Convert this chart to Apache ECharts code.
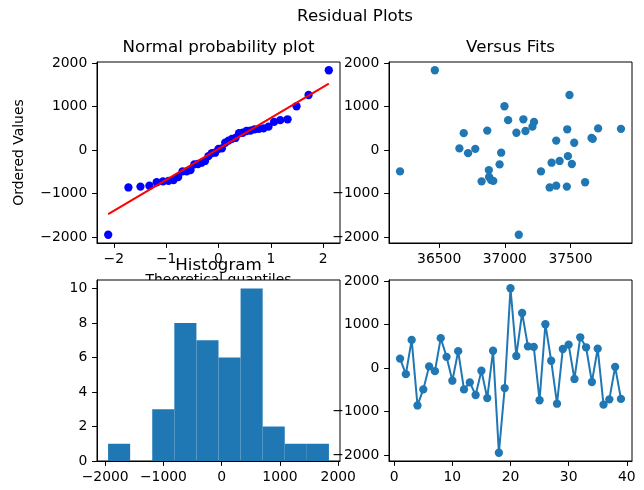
<!DOCTYPE html>
<html>
<head>
<meta charset="utf-8">
<script src="https://cdn.jsdelivr.net/npm/echarts@6/dist/echarts.min.js"></script>
<style>
  html, body { margin: 0; padding: 0; background: #fff; }
  #chart { width: 644px; height: 490px; }
</style>
</head>
<body>
<div id="chart"></div>
<script>
const observation = [1, 2, 3, 4, 5, 6, 7, 8, 9, 10, 11, 12, 13, 14, 15, 16, 17, 18, 19, 20,
  21, 22, 23, 24, 25, 26, 27, 28, 29, 30, 31, 32, 33, 34, 35, 36, 37, 38, 39];
const residuals = [220, -140, 650, -860, -490, 40, -70, 690, 260, -290, 390, -490, -330, -620, -60,
  -690, 400, -1950, -460, 1840, 280, 1270, 500, 490, -740, 1010, 170, -820, 440, 540, -250, 710,
  480, -320, 450, -840, -720, 30, -710];
const fittedValues = [37391, 37480, 37222, 37341, 36202, 36654, 36720, 37025, 37669, 37356, 36687,
  37275, 36960, 36880, 36972, 36895, 37088, 37106, 36878, 36467, 37660, 37492, 37710, 37884, 37611,
  36997, 37528, 37391, 37157, 37210, 37417, 37141, 37475, 37510, 36866, 37472, 36823, 36775, 36912];

// normal probability plot
const qqQuantiles = [-2.106, -1.720, -1.490, -1.319, -1.180, -1.061, -0.955, -0.859, -0.770, -0.687,
  -0.609, -0.534, -0.462, -0.392, -0.324, -0.257, -0.192, -0.128, -0.064, 0, 0.064, 0.128, 0.192,
  0.257, 0.324, 0.392, 0.462, 0.534, 0.609, 0.687, 0.770, 0.859, 0.955, 1.061, 1.180, 1.319, 1.490,
  1.720, 2.106];
const qqOrdered = [-1950, -860, -840, -820, -740, -720, -710, -690, -620, -490, -490, -460, -330,
  -320, -290, -250, -140, -70, -60, 30, 40, 170, 220, 260, 280, 390, 400, 440, 450, 480, 490, 500,
  540, 650, 690, 710, 1010, 1270, 1840];
const qqLineX = [-2.106, 2.106];
const qqLineY = [-1475, 1530];

// histogram
const histEdges = [-1950, -1571, -1192, -813, -434, -55, 324, 703, 1082, 1461, 1840];
const histCounts = [1, 0, 3, 8, 7, 6, 10, 2, 1, 1];

// tick labels
const qqTicks = [-2, -1, 0, 1, 2];
const residualTicks = [-2000, -1000, 0, 1000, 2000];
const fitTicks = [36500, 37000, 37500];
const histXTicks = [-2000, -1000, 0, 1000, 2000];
const histYTicks = [0, 2, 4, 6, 8, 10];
const obsTicks = [0, 10, 20, 30, 40];

const FONT = 'DejaVu Sans';
const BLUE = '#1f77b4';
const minus = v => String(v).replace('-', '\u2212');

function axis(gridIndex, min, max, ticks, extra) {
  return Object.assign({
    type: 'value',
    gridIndex: gridIndex,
    min: min,
    max: max,
    z: 3,
    axisLine: { show: true, onZero: false, lineStyle: { color: '#000', width: 1 } },
    axisTick: { show: true, length: 4.9, customValues: ticks, lineStyle: { color: '#000', width: 1 } },
    axisLabel: { margin: 9.7, color: '#000', fontSize: 13.9, fontFamily: FONT, customValues: ticks, formatter: minus },
    splitLine: { show: false }
  }, extra || {});
}

const titleStyle = { fontSize: 16.7, fontWeight: 'normal', color: '#000', fontFamily: FONT };
function title(text, x, y) {
  return { text: text, left: x, top: y, textAlign: 'center', padding: 0, textStyle: titleStyle };
}

const gridBox = { show: true, borderColor: '#000', borderWidth: 1, backgroundColor: 'transparent' };

const chart = echarts.init(document.getElementById('chart'), null, { renderer: 'canvas' });
chart.setOption({
  animation: false,
  backgroundColor: '#fff',
  textStyle: { fontFamily: FONT },
  title: [
    title('Residual Plots', 355, 8),
    title('Normal probability plot', 218.5, 39),
    title('Versus Fits', 510.5, 39),
    title('Histogram', 218.5, 257)
  ],
  grid: [
    Object.assign({ left: 97, top: 62, width: 243, height: 181 }, gridBox),
    Object.assign({ left: 389, top: 62, width: 243, height: 181 }, gridBox),
    // white panel drawn above the quantile-axis name, like matplotlib's axes patch
    Object.assign({ left: 97, top: 280, width: 243, height: 181, z: 1 }, gridBox, { backgroundColor: '#fff' }),
    Object.assign({ left: 389, top: 280, width: 243, height: 181 }, gridBox)
  ],
  xAxis: [
    axis(0, -2.32, 2.32, qqTicks, {
      z: 0,
      name: 'Theoretical quantiles', nameLocation: 'middle', nameGap: 30,
      nameTextStyle: { color: '#000', fontSize: 13.9, fontFamily: FONT }
    }),
    axis(1, 36118, 37968, fitTicks),
    axis(2, -2140, 2030, histXTicks),
    axis(3, -0.9, 40.9, obsTicks)
  ],
  yAxis: [
    axis(0, -2140, 2030, residualTicks, {
      name: 'Ordered Values', nameLocation: 'middle', nameGap: 71,
      nameTextStyle: { color: '#000', fontSize: 13.9, fontFamily: FONT }
    }),
    axis(1, -2140, 2030, residualTicks),
    axis(2, 0, 10.5, histYTicks),
    axis(3, -2140, 2030, residualTicks)
  ],
  series: [
    {
      type: 'scatter', xAxisIndex: 0, yAxisIndex: 0,
      data: qqQuantiles.map((q, i) => [q, qqOrdered[i]]),
      symbolSize: 8.3, itemStyle: { color: '#0000ff', opacity: 1 }
    },
    {
      type: 'line', xAxisIndex: 0, yAxisIndex: 0,
      data: qqLineX.map((x, i) => [x, qqLineY[i]]),
      showSymbol: false, lineStyle: { color: '#ff0000', width: 2 }, z: 3
    },
    {
      type: 'scatter', xAxisIndex: 1, yAxisIndex: 1,
      data: fittedValues.map((f, i) => [f, residuals[i]]),
      symbolSize: 8.3, itemStyle: { color: BLUE, opacity: 1 }
    },
    {
      type: 'custom', xAxisIndex: 2, yAxisIndex: 2, z: 3,
      data: histCounts.map((c, i) => [histEdges[i], histEdges[i + 1], c]),
      encode: { x: [0, 1], y: 2 },
      renderItem: function (params, api) {
        const p0 = api.coord([api.value(0), api.value(2)]);
        const p1 = api.coord([api.value(1), 0]);
        return {
          type: 'rect',
          shape: { x: p0[0], y: p0[1], width: p1[0] - p0[0], height: p1[1] - p0[1] },
          style: { fill: BLUE }
        };
      }
    },
    {
      type: 'line', xAxisIndex: 3, yAxisIndex: 3,
      data: observation.map((o, i) => [o, residuals[i]]),
      symbol: 'circle', symbolSize: 8.3, showSymbol: true,
      lineStyle: { color: BLUE, width: 2 }, itemStyle: { color: BLUE }
    }
  ]
});
</script>
</body>
</html>
